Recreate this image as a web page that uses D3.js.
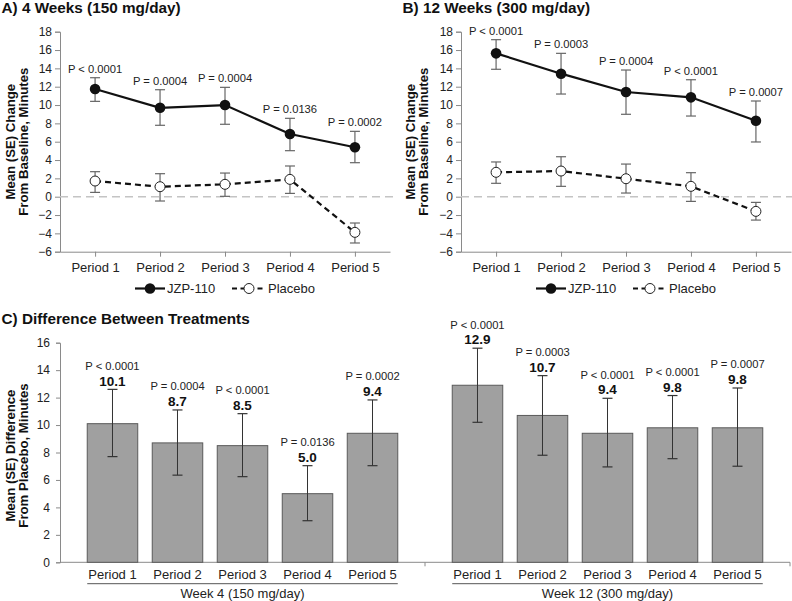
<!DOCTYPE html>
<html><head><meta charset="utf-8">
<script src="https://cdn.jsdelivr.net/npm/d3@7"></script>
<style>body{margin:0;background:#fff}svg{display:block}text{font-family:"Liberation Sans",Arial,sans-serif}</style>
</head><body>
<svg id="c" width="792" height="601"></svg>
<script>
const periods = ["Period 1","Period 2","Period 3","Period 4","Period 5"];
const yTicksLine = [-6,-4,-2,0,2,4,6,8,10,12,14,16,18];
const yTicksBar = [0,2,4,6,8,10,12,14,16];

// Panel A: 4 weeks (150 mg/day)
const aJzp = [11.75, 9.7, 10.0, 6.84, 5.39];
const aJzpLo = [10.4, 7.79, 7.9, 5.02, 3.71];
const aJzpHi = [12.98, 11.67, 11.93, 8.55, 7.13];
const aPbo = [1.71, 1.09, 1.35, 1.89, -3.89];
const aPboLo = [0.47, -0.47, 0.04, 0.36, -5.05];
const aPboHi = [2.73, 2.51, 2.58, 3.35, -2.87];
const aP = ["P < 0.0001","P = 0.0004","P = 0.0004","P = 0.0136","P = 0.0002"];

// Panel B: 12 weeks (300 mg/day)
const bJzp = [15.64, 13.42, 11.42, 10.84, 8.29];
const bJzpLo = [13.9, 11.2, 8.99, 8.8, 5.97];
const bJzpHi = [17.13, 15.64, 13.82, 12.76, 10.44];
const bPbo = [2.66, 2.8, 1.96, 1.13, -1.6];
const bPboLo = [1.46, 1.13, 0.40, -0.51, -2.55];
const bPboHi = [3.79, 4.36, 3.56, 2.62, -0.62];
const bP = ["P < 0.0001","P = 0.0003","P = 0.0004","P < 0.0001","P = 0.0007"];

// Panel C: difference from placebo
const groups = ["Week 4 (150 mg/day)","Week 12 (300 mg/day)"];
const w4Diff = [10.1, 8.7, 8.5, 5.0, 9.4];
const w4Lo = [7.7, 6.35, 6.24, 3.03, 7.04];
const w4Hi = [12.6, 11.1, 10.83, 7.04, 11.83];
const w4P = ["P < 0.0001","P = 0.0004","P < 0.0001","P = 0.0136","P = 0.0002"];
const w12Diff = [12.9, 10.7, 9.4, 9.8, 9.8];
const w12Lo = [10.2, 7.8, 6.95, 7.55, 7.0];
const w12Hi = [15.6, 13.6, 11.95, 12.15, 12.7];
const w12P = ["P < 0.0001","P = 0.0003","P < 0.0001","P < 0.0001","P = 0.0007"];

const svg = d3.select("#c");
const AX = "#8a8a8a", TXT = "#222";

function linePanel(x0, title, jzp, jLo, jHi, pbo, pLo, pHi, pv, ytx) {
  const g = svg.append("g");
  const x = d3.scalePoint().domain(periods).range([x0, x0 + 330]).padding(0.54);
  const y = d3.scaleLinear().domain([-6, 18]).range([251.7, 31.7]);
  g.append("text").attr("x", x0 - 58.5).attr("y", 13).attr("font-size", 15.3).attr("font-weight", "bold").attr("fill", "#111").text(title);
  const ya = g.append("g").attr("transform", `translate(${x0},0)`).call(d3.axisLeft(y).tickValues(yTicksLine).tickSize(5).tickPadding(3));
  ya.selectAll("path,line").attr("stroke", AX);
  ya.selectAll("text").attr("font-size", 12).attr("fill", TXT).style("font-family", '"Liberation Sans",Arial,sans-serif');
  const xa = g.append("g").attr("transform", `translate(0,${y(-6)})`).call(d3.axisBottom(x).tickSize(5).tickPadding(6).tickSizeOuter(0));
  xa.selectAll("path,line").attr("stroke", AX);
  xa.selectAll("text").attr("font-size", 13).attr("fill", TXT).style("font-family", '"Liberation Sans",Arial,sans-serif');
  g.append("line").attr("x1", x0).attr("x2", x0 + 333).attr("y1", y(0)).attr("y2", y(0))
    .attr("stroke", "#c4c4c4").attr("stroke-width", 1.5).attr("stroke-dasharray", "8,5");
  const yt = g.append("text").attr("transform", `translate(${ytx},${y(6)}) rotate(-90)`)
    .attr("text-anchor", "middle").attr("font-size", 13.2).attr("font-weight", "bold").attr("fill", "#111");
  yt.append("tspan").attr("x", 0).attr("dy", 0).text("Mean (SE) Change");
  yt.append("tspan").attr("x", 0).attr("dy", 13.2).text("From Baseline, Minutes");
  function err(lo, hi) {
    periods.forEach((p, i) => {
      const cx = x(p);
      g.append("line").attr("x1", cx).attr("x2", cx).attr("y1", y(lo[i])).attr("y2", y(hi[i])).attr("stroke", "#666").attr("stroke-width", 1.2);
      [lo[i], hi[i]].forEach(v => g.append("line").attr("x1", cx - 5).attr("x2", cx + 5).attr("y1", y(v)).attr("y2", y(v)).attr("stroke", "#666").attr("stroke-width", 1.2));
    });
  }
  err(jLo, jHi);
  err(pLo, pHi);
  const ln = d3.line().x((d, i) => x(periods[i])).y(d => y(d));
  g.append("path").attr("d", ln(pbo)).attr("fill", "none").attr("stroke", "#111").attr("stroke-width", 2.2).attr("stroke-dasharray", "6,4");
  g.append("path").attr("d", ln(jzp)).attr("fill", "none").attr("stroke", "#111").attr("stroke-width", 2.2);
  pbo.forEach((v, i) => g.append("circle").attr("cx", x(periods[i])).attr("cy", y(v)).attr("r", 5).attr("fill", "#fff").attr("stroke", "#222").attr("stroke-width", 1));
  jzp.forEach((v, i) => g.append("circle").attr("cx", x(periods[i])).attr("cy", y(v)).attr("r", 5.3).attr("fill", "#111"));
  pv.forEach((t, i) => g.append("text").attr("x", x(periods[i])).attr("y", y(jHi[i]) - 5).attr("text-anchor", "middle").attr("font-size", 11.2).attr("fill", TXT).text(t));
  const lx = x0 + 165, ly = 288.5;
  const lg = g.append("g");
  lg.append("line").attr("x1", lx - 90).attr("x2", lx - 60).attr("y1", ly).attr("y2", ly).attr("stroke", "#111").attr("stroke-width", 2.2);
  lg.append("circle").attr("cx", lx - 75).attr("cy", ly).attr("r", 5.3).attr("fill", "#111");
  lg.append("text").attr("x", lx - 58).attr("y", ly + 4.5).attr("font-size", 13).attr("fill", TXT).text("JZP-110");
  lg.append("line").attr("x1", lx + 7).attr("x2", lx + 41).attr("y1", ly).attr("y2", ly).attr("stroke", "#111").attr("stroke-width", 2.2).attr("stroke-dasharray", "5,3.5");
  lg.append("circle").attr("cx", lx + 24).attr("cy", ly).attr("r", 5).attr("fill", "#fff").attr("stroke", "#222").attr("stroke-width", 1);
  lg.append("text").attr("x", lx + 43).attr("y", ly + 4.5).attr("font-size", 13).attr("fill", TXT).text("Placebo");
}

linePanel(60, "A) 4 Weeks (150 mg/day)", aJzp, aJzpLo, aJzpHi, aPbo, aPboLo, aPboHi, aP, 14.5);
linePanel(461, "B) 12 Weeks (300 mg/day)", bJzp, bJzpLo, bJzpHi, bPbo, bPboLo, bPboHi, bP, 414.5);

// Panel C
(function () {
  const g = svg.append("g");
  const y = d3.scaleLinear().domain([0, 16]).range([562.3, 342.7]);
  const outer = d3.scaleBand().domain(groups).range([60, 790]).padding(0);
  const inner = d3.scaleBand().domain(periods).range([0, outer.bandwidth()]).paddingInner(0.223).paddingOuter(0.419);
  g.append("text").attr("x", 1.5).attr("y", 323.5).attr("font-size", 15.3).attr("font-weight", "bold").attr("fill", "#111").text("C) Difference Between Treatments");
  const ya = g.append("g").attr("transform", "translate(60,0)").call(d3.axisLeft(y).tickValues(yTicksBar).tickSize(4).tickPadding(6));
  ya.selectAll("path,line").attr("stroke", AX);
  ya.selectAll("text").attr("font-size", 12).attr("fill", TXT).style("font-family", '"Liberation Sans",Arial,sans-serif');
  const yt = g.append("text").attr("transform", `translate(14.5,${y(8) + 3}) rotate(-90)`)
    .attr("text-anchor", "middle").attr("font-size", 13.2).attr("font-weight", "bold").attr("fill", "#111");
  yt.append("tspan").attr("x", 0).attr("dy", 0).text("Mean (SE) Difference");
  yt.append("tspan").attr("x", 0).attr("dy", 13.2).text("From Placebo, Minutes");
  g.append("line").attr("x1", 60).attr("x2", 790).attr("y1", y(0)).attr("y2", y(0)).attr("stroke", AX);
  groups.forEach(gr => {
    const ex = outer(gr) + outer.bandwidth();
    g.append("line").attr("x1", ex).attr("x2", ex).attr("y1", y(0)).attr("y2", y(0) + 4).attr("stroke", AX);
  });
  const sets = [[w4Diff, w4Lo, w4Hi, w4P], [w12Diff, w12Lo, w12Hi, w12P]];
  groups.forEach((gr, gi) => {
    const [vals, lo, hi, pv] = sets[gi];
    const gx = outer(gr);
    periods.forEach((p, i) => {
      const bx = gx + inner(p), bw = inner.bandwidth(), cx = bx + bw / 2;
      g.append("rect").attr("x", bx).attr("y", y(vals[i])).attr("width", bw).attr("height", y(0) - y(vals[i]))
        .attr("fill", "#a0a0a0").attr("stroke", "#5a5a5a").attr("stroke-width", 1);
      g.append("line").attr("x1", cx).attr("x2", cx).attr("y1", y(lo[i])).attr("y2", y(hi[i])).attr("stroke", "#333").attr("stroke-width", 1);
      [lo[i], hi[i]].forEach(v => g.append("line").attr("x1", cx - 5).attr("x2", cx + 5).attr("y1", y(v)).attr("y2", y(v)).attr("stroke", "#333").attr("stroke-width", 1.2));
      g.append("text").attr("x", cx).attr("y", y(hi[i]) - 3.8).attr("text-anchor", "middle").attr("font-size", 13.5).attr("font-weight", "bold").attr("fill", "#111").text(d3.format(".1f")(vals[i]));
      g.append("text").attr("x", cx).attr("y", y(hi[i]) - 19.5).attr("text-anchor", "middle").attr("font-size", 11.2).attr("fill", TXT).text(pv[i]);
      g.append("text").attr("x", cx).attr("y", 578.5).attr("text-anchor", "middle").attr("font-size", 13).attr("fill", TXT).text(p);
    });
    const x1 = gx + inner(periods[0]), x2 = gx + inner(periods[4]) + inner.bandwidth();
    g.append("line").attr("x1", x1).attr("x2", x2).attr("y1", 583.7).attr("y2", 583.7).attr("stroke", "#555").attr("stroke-width", 1);
    g.append("text").attr("x", (x1 + x2) / 2).attr("y", 597.5).attr("text-anchor", "middle").attr("font-size", 13).attr("fill", TXT).text(gr);
  });
})();
</script>
</body></html>
